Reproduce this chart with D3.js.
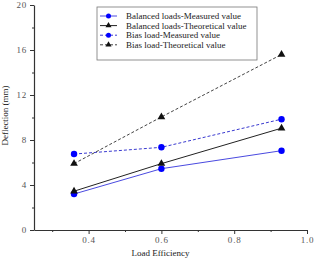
<!DOCTYPE html>
<html>
<head>
<meta charset="utf-8">
<script src="https://cdn.jsdelivr.net/npm/d3@7"></script>
<style>
 body { margin: 0; background: #fff; }
 text { font-family: "Liberation Serif", "DejaVu Serif", serif; }
</style>
</head>
<body>
<div class="vis"></div>
<script>
// data
var efficiency = [0.36, 0.6, 0.93];
var balancedMeasured = [3.2, 5.45, 7.05];
var balancedTheory = [3.45, 5.9, 9.05];
var biasMeasured = [6.75, 7.35, 9.85];
var biasTheory = [5.9, 10.05, 15.6];
var seriesNames = ["Balanced loads-Measured value", "Balanced loads-Theoretical value",
  "Bias load-Measured value", "Bias load-Theoretical value"];
var yTicks = [0, 4, 8, 12, 16, 20];
var xTicks = [0.4, 0.6, 0.8, 1.0];

var W = 317, H = 260;
var margin = {top: 5, right: 10, bottom: 30, left: 34};
var width = W - margin.left - margin.right,
    height = H - margin.top - margin.bottom;

var svg = d3.select(".vis").append("svg")
  .attr("width", W).attr("height", H)
  .append("g")
  .attr("transform", "translate(" + margin.left + "," + margin.top + ")");

var x = d3.scaleLinear().domain([0.25, 1.0]).range([0, width]);
var y = d3.scaleLinear().domain([0, 20]).range([height, 0]);

var axisColor = "#333";

// minor ticks
svg.append("g").attr("transform", "translate(0," + height + ")")
  .call(d3.axisBottom(x).tickValues([0.3, 0.5, 0.7, 0.9]).tickSize(2).tickFormat(""))
  .call(function(g) { g.select(".domain").remove(); g.selectAll("line").attr("stroke", axisColor); });
svg.append("g")
  .call(d3.axisLeft(y).tickValues([2, 6, 10, 14, 18]).tickSize(2).tickFormat(""))
  .call(function(g) { g.select(".domain").remove(); g.selectAll("line").attr("stroke", axisColor); });

// major axes
var xAxis = svg.append("g").attr("transform", "translate(0," + height + ")")
  .call(d3.axisBottom(x).tickValues(xTicks).tickSize(4).tickSizeOuter(0).tickFormat(d3.format(".1f")));
var yAxis = svg.append("g")
  .call(d3.axisLeft(y).tickValues(yTicks).tickSize(4).tickSizeOuter(0).tickFormat(d3.format("d")));
[xAxis, yAxis].forEach(function(a) {
  a.select(".domain").attr("stroke", axisColor).attr("stroke-width", 1.2);
  a.selectAll("line").attr("stroke", axisColor);
  a.selectAll("text").attr("font-size", 9).attr("fill", "#555")
    .style("font-family", "Liberation Serif, serif").attr("letter-spacing", "0.8px");
});

// axis titles
svg.append("text").attr("x", width / 2 - 10).attr("y", height + 26)
  .attr("text-anchor", "middle").attr("font-size", 9).attr("fill", "#222").text("Load Efficiency");
svg.append("text").attr("transform", "translate(" + (-26) + "," + (height / 2 - 2) + ") rotate(-90)")
  .attr("text-anchor", "middle").attr("font-size", 9).attr("fill", "#222").text("Deflection (mm)");

var blue = "#0000ff", blueLine = "#4a4ae0", black = "#111";
var series = [
  {vals: balancedMeasured, line: blueLine, mark: blue, dash: null, shape: "circle"},
  {vals: balancedTheory, line: "#222", mark: black, dash: null, shape: "triangle"},
  {vals: biasMeasured, line: "#3a3ad0", mark: blue, dash: "3,2", shape: "circle"},
  {vals: biasTheory, line: "#444", mark: black, dash: "3,2", shape: "triangle"}
];

var line = d3.line().x(function(d) { return x(d[0]); }).y(function(d) { return y(d[1]); });
var triangle = d3.symbol().type(d3.symbolTriangle).size(26);
var smallTri = d3.symbol().type(d3.symbolTriangle).size(16);

function marker(g, s, cx, cy, small) {
  if (s.shape === "circle") {
    g.append("circle").attr("cx", cx).attr("cy", cy).attr("r", small ? 2.5 : 3.2).attr("fill", s.mark);
  } else {
    g.append("path").attr("d", small ? smallTri : triangle)
      .attr("transform", "translate(" + cx + "," + cy + ")").attr("fill", s.mark);
  }
}

series.forEach(function(s) {
  var pts = efficiency.map(function(e, i) { return [e, s.vals[i]]; });
  svg.append("path").datum(pts).attr("d", line).attr("fill", "none")
    .attr("stroke", s.line).attr("stroke-width", 1).attr("stroke-dasharray", s.dash);
  pts.forEach(function(p) { marker(svg, s, x(p[0]), y(p[1])); });
});

// legend
var lg = svg.append("g").attr("transform", "translate(63,2)");
lg.append("rect").attr("width", 160).attr("height", 53)
  .attr("fill", "#fff").attr("stroke", "#777").attr("stroke-width", 0.8);
series.forEach(function(s, i) {
  var yy = 9 + i * 9.6;
  lg.append("line").attr("x1", 3).attr("x2", 20).attr("y1", yy).attr("y2", yy)
    .attr("stroke", s.line).attr("stroke-width", 1).attr("stroke-dasharray", s.dash);
  marker(lg, s, 11.5, yy, true);
  lg.append("text").attr("x", 29).attr("y", yy + 3).attr("font-size", 9).attr("fill", "#222")
    .text(seriesNames[i]);
});
</script>
</body>
</html>
